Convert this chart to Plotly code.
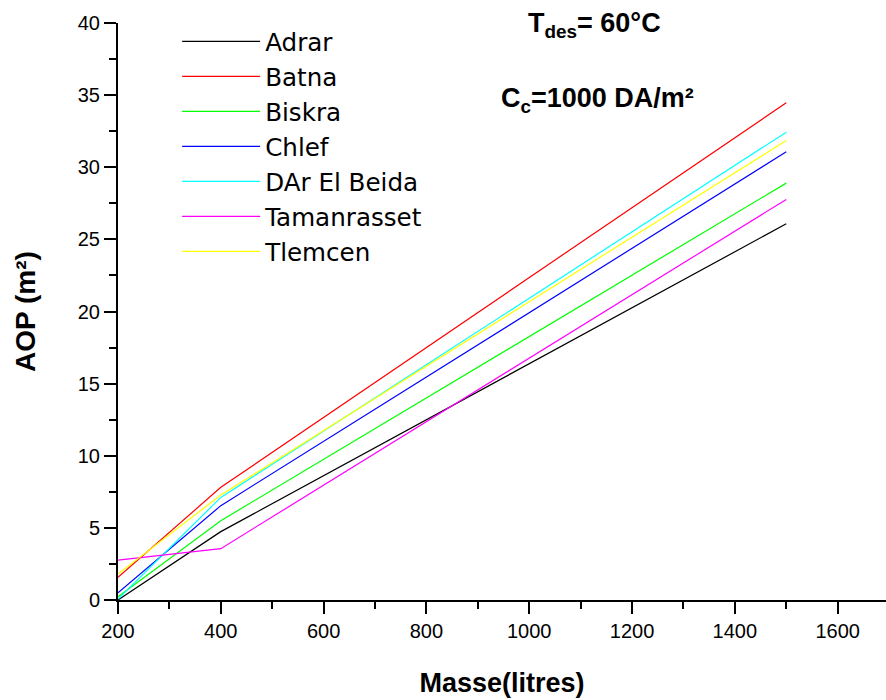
import plotly.graph_objects as go

# Storage mass (litres) at which the optimal collector area was computed
masse = [200, 400, 1500]

# Optimal collector area AOP (m²) per site
adrar = [0.0, 4.74, 26.08]
batna = [1.57, 7.81, 34.47]
biskra = [0.23, 5.50, 28.90]
chlef = [0.50, 6.54, 31.07]
dar_el_beida = [0.07, 7.11, 32.43]
tamanrasset = [2.77, 3.56, 27.77]
tlemcen = [1.80, 7.28, 31.85]

sites = ["Adrar", "Batna", "Biskra", "Chlef", "DAr El Beida", "Tamanrasset", "Tlemcen"]
series = [adrar, batna, biskra, chlef, dar_el_beida, tamanrasset, tlemcen]
colors = ["#000000", "#FF0000", "#00FF00", "#0000FF", "#00FFFF", "#FF00FF", "#FFFF00"]

FONT = "Liberation Sans, Arial, sans-serif"
LEGEND_FONT = "DejaVu Sans, Liberation Sans, sans-serif"

fig = go.Figure()
for name, vals, col in zip(sites, series, colors):
    fig.add_trace(go.Scatter(x=masse, y=vals, mode="lines", name=name,
                             line=dict(color=col, width=1.2)))

axis_common = dict(
    showgrid=False, zeroline=False, showline=True, linecolor="black", linewidth=2,
    ticks="outside", ticklen=12, tickwidth=2, tickcolor="black",
    tickfont=dict(family=FONT, size=20, color="black"),
)

fig.update_xaxes(range=[200, 1694], dtick=200, tick0=200,
                 minor=dict(dtick=100, ticks="outside", ticklen=7, tickwidth=2, tickcolor="black"),
                 title=dict(text="<b>Masse(litres)</b>", font=dict(family=FONT, size=27, color="black"),
                            standoff=32),
                 **axis_common)
fig.update_yaxes(range=[0, 40], dtick=5,
                 minor=dict(dtick=2.5, ticks="outside", ticklen=7, tickwidth=2, tickcolor="black"),
                 title=dict(text="<b>AOP (m²)</b>", font=dict(family=FONT, size=28, color="black"),
                            standoff=34),
                 **axis_common)

fig.add_annotation(xref="paper", yref="paper", x=0.621, y=0.996, xanchor="center", yanchor="middle",
                   text="<b>T<sub>des</sub>= 60°C</b>", showarrow=False,
                   font=dict(family=FONT, size=27, color="black"))
fig.add_annotation(xref="paper", yref="paper", x=0.624, y=0.867, xanchor="center", yanchor="middle",
                   text="<b>C<sub>c</sub>=1000 DA/m²</b>", showarrow=False,
                   font=dict(family=FONT, size=27, color="black"))

fig.update_layout(
    width=886, height=700,
    margin=dict(l=118, r=0, t=23, b=100),
    plot_bgcolor="white", paper_bgcolor="white",
    showlegend=True,
    legend=dict(x=0.077, y=1.007, xanchor="left", yanchor="top",
                font=dict(family=LEGEND_FONT, size=24.6, color="black"),
                itemwidth=78, bgcolor="rgba(0,0,0,0)", borderwidth=0),
)

fig.write_html("out.html")
